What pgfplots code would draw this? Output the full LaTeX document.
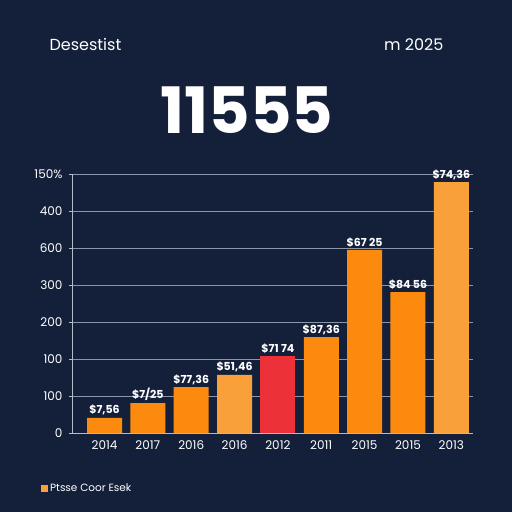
\documentclass[border=0pt]{standalone}
\usepackage{fontspec}
\setmainfont{Poppins}
\usepackage{pgfplots}
\pgfplotsset{compat=1.18}
\definecolor{bg}{HTML}{14203A}
\definecolor{gridc}{HTML}{8C96AA}
\definecolor{axc}{HTML}{B4BCCB}
\definecolor{barorange}{HTML}{FB8A0E}
\definecolor{barlight}{HTML}{F9A03A}
\definecolor{barred}{HTML}{EC3238}
\begin{document}
\begin{tikzpicture}
\fill[bg] (0pt,0pt) rectangle (512pt,512pt);
% headings
\node[anchor=base west, text=white, font=\fontsize{16}{19}\selectfont] at (46pt,461pt) {Desestist};
\node[anchor=base east, text=white, font=\fontsize{16}{19}\selectfont] at (447pt,461pt) {m 2025};
\node[anchor=base, text=white, font=\fontsize{64}{70}\selectfont\bfseries] at (247pt,378pt) {11555};
\begin{axis}[
  at={(72pt,79pt)}, anchor=south west,
  width=401pt, height=259pt, scale only axis,
  xmin=-0.75, xmax=8.5, ymin=0, ymax=7,
  axis x line*=bottom, axis y line*=left,
  axis line style={axc, line width=0.8pt, -},
  ytick={0,1,2,3,4,5,6,7},
  yticklabels={0,100,100,200,300,600,400,150\%},
  xtick={0,1,2,3,4,5,6,7,8},
  xticklabels={2014,2017,2016,2016,2012,2011,2015,2015,2013},
  x tick style={draw=none},
  y tick style={axc, line width=0.6pt},
  major tick length=3pt, tick align=outside,
  ymajorgrids, grid style={gridc, line width=0.6pt},
  tick label style={text=white, font=\fontsize{12}{14}\selectfont},
  yticklabel style={xshift=-3pt},
  xticklabel style={yshift=-1pt},
  ybar, bar width=35pt, bar shift=0pt,
  point meta=explicit symbolic,
  nodes near coords={\pgfplotspointmeta},
  nodes near coords style={text=white, font=\fontsize{11}{13}\selectfont\bfseries, inner sep=2.5pt},
  legend style={at={(-0.085,-0.215)}, anchor=west, draw=none, fill=none,
    text=white, font=\fontsize{10.5}{12}\selectfont},
  legend image code/.code={\fill[barlight] (0,-3.5pt) rectangle (7pt,3.5pt);},
]
\addplot[draw=none, fill=barorange] coordinates {
  (0,0.41) [\$7,56]
  (1,0.81) [\$7/25]
  (2,1.24) [\$77,36]
  (5,2.59) [\$87,36]
  (6,4.95) [\$67 25]
  (7,3.81) [\$84 56]
};
\addlegendentry{Ptsse Coor Esek}
\addplot[draw=none, fill=barlight, forget plot] coordinates {
  (3,1.57) [\$51,46]
  (8,6.78) [\$74,36]
};
\addplot[draw=none, fill=barred, forget plot] coordinates {
  (4,2.08) [\$71 74]
};
\end{axis}
\end{tikzpicture}
\end{document}
